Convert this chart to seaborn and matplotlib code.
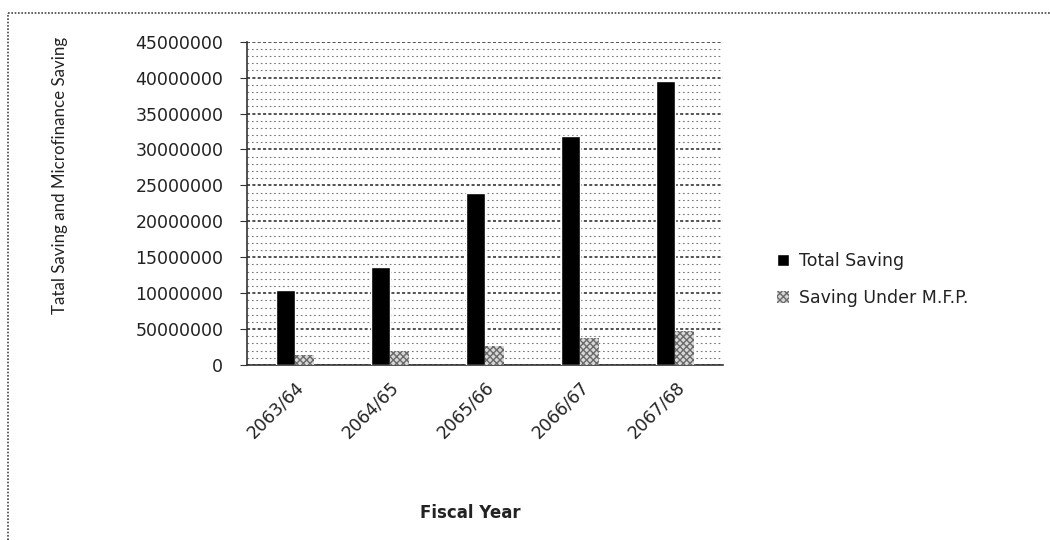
import matplotlib
matplotlib.use("Agg")
import matplotlib.pyplot as plt
from matplotlib.lines import Line2D
from matplotlib.ticker import MultipleLocator
import pandas as pd
import seaborn as sns

# Fiscal years and savings (NPR)
years = ["2063/64", "2064/65", "2065/66", "2066/67", "2067/68"]
total_saving = [10500000, 13650000, 24000000, 31800000, 39500000]
mfp_saving = [1400000, 2000000, 2600000, 3700000, 4700000]
series_names = ["Total Saving", "Saving Under M.F.P."]

y_ticks = [0, 5000000, 10000000, 15000000, 20000000, 25000000,
           30000000, 35000000, 40000000, 45000000]
y_tick_labels = ["0", "50000000", "10000000", "15000000", "20000000",
                 "25000000", "30000000", "35000000", "40000000", "45000000"]

df = pd.DataFrame({
    "Fiscal Year": years * 2,
    "Saving": total_saving + mfp_saving,
    "Series": [series_names[0]] * len(years) + [series_names[1]] * len(years),
})

sns.set_style("white")
plt.rcParams["font.family"] = ["DejaVu Sans"]

fig = plt.figure(figsize=(10.5, 5.4), dpi=100)
ax = fig.add_axes([0.2352, 0.324, 0.4533, 0.5989])

sns.barplot(data=df, x="Fiscal Year", y="Saving", hue="Series",
            palette=["#000000", "#d8d8d8"], width=0.4, gap=0,
            saturation=1, ax=ax, legend=True, zorder=3)

# Dotted checker fill for the microfinance series
def checker(patch):
    patch.set_hatch("xxxxx")
    patch.set_edgecolor("#6a6a6a")
    patch.set_linewidth(0)

for bar in ax.containers[1]:
    checker(bar)

ax.set_ylim(0, 45000000)
ax.set_xlim(-0.5, len(years) - 0.5)
ax.set_yticks(y_ticks)
ax.set_yticklabels(y_tick_labels, fontsize=12.5, color="#222222")
ax.yaxis.set_minor_locator(MultipleLocator(1000000))

ax.grid(which="major", axis="y", linestyle=(0, (2, 1.5)), color="#222222",
        linewidth=1.1, zorder=0)
ax.grid(which="minor", axis="y", linestyle=(0, (1.5, 2.5)), color="#777777",
        linewidth=0.8, zorder=0)
ax.set_axisbelow(True)

for side in ("top", "right"):
    ax.spines[side].set_visible(False)
for side in ("left", "bottom"):
    ax.spines[side].set_linestyle((0, (1.5, 1)))
    ax.spines[side].set_color("#333333")
    ax.spines[side].set_linewidth(1.2)

ax.tick_params(axis="y", which="major", left=True, length=5, pad=12,
               color="#333333")
ax.tick_params(axis="y", which="minor", left=False)
ax.tick_params(axis="x", bottom=False, pad=6)
plt.setp(ax.get_xticklabels(), rotation=45, ha="right",
         rotation_mode="anchor", fontsize=12.5, color="#222222")

ax.set_xlabel("Fiscal Year", fontsize=12, fontweight="bold", color="#222222")
ax.xaxis.set_label_coords(0.47, -0.43)
ax.set_ylabel("Tatal Saving and Microfinance Saving", fontsize=12.2,
              family=["Lato", "DejaVu Sans"], color="#222222")
ax.yaxis.set_label_coords(-0.375, 0.585)

handles, labels = ax.get_legend_handles_labels()
ax.get_legend().remove()
checker(handles[1])
fig.legend(handles, labels, loc="center left",
           bbox_to_anchor=(0.725, 0.482), frameon=False, fontsize=12.5,
           handlelength=0.7, handleheight=0.7, handletextpad=0.6,
           labelspacing=1.1, labelcolor="#222222")

# Chart-area border
fig.add_artist(Line2D([8 / 1050, 1.0], [1 - 13 / 540, 1 - 13 / 540],
                      transform=fig.transFigure, color="#444444",
                      linewidth=1.2, linestyle=(0, (1, 1))))
fig.add_artist(Line2D([8 / 1050, 8 / 1050], [0.0, 1 - 13 / 540],
                      transform=fig.transFigure, color="#444444",
                      linewidth=1.2, linestyle=(0, (1, 1))))

fig.savefig("out.png", dpi=100)
